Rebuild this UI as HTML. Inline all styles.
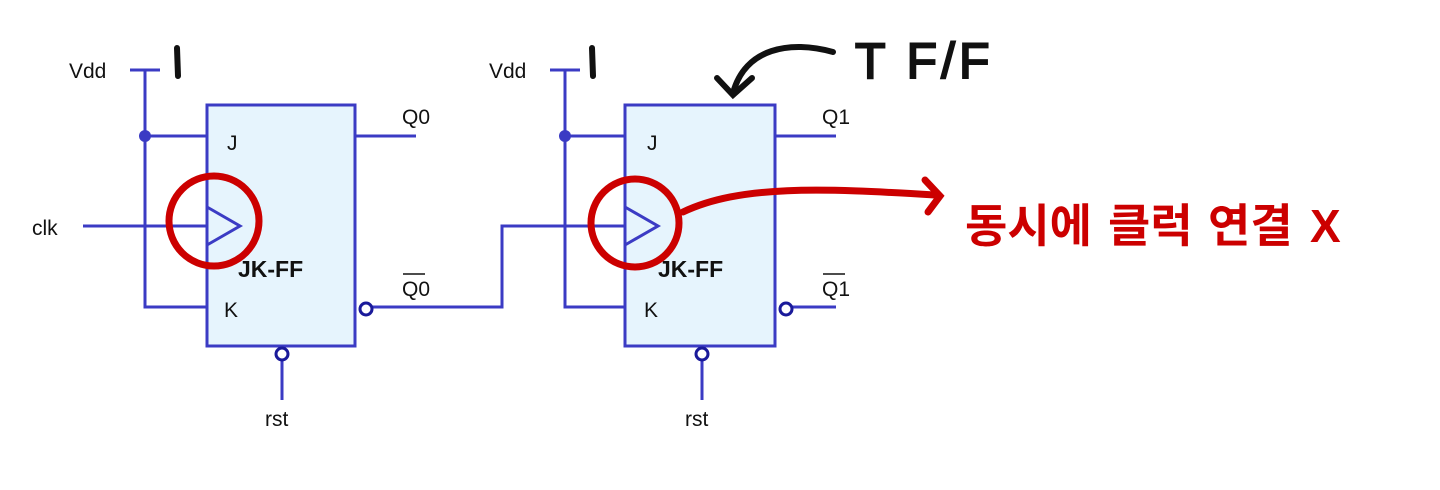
<!DOCTYPE html>
<html><head><meta charset="utf-8"><style>
html,body{margin:0;padding:0;background:#fff;}
svg{display:block;}
</style></head><body>
<svg width="1440" height="490" viewBox="0 0 1440 490" xmlns="http://www.w3.org/2000/svg">
<g font-family="Liberation Sans, sans-serif" fill="#111">
<!-- FF1 -->
<g stroke="#3b3bc4" stroke-width="3" fill="none">
<rect x="207" y="105" width="148" height="241" fill="#e6f4fd"/>
<line x1="130" y1="70" x2="160" y2="70"/>
<polyline points="145,70 145,307 207,307"/>
<line x1="145" y1="136" x2="207" y2="136"/>
<line x1="83" y1="226" x2="207" y2="226"/>
<polyline points="207,207 240,226 207,245"/>
<line x1="355" y1="136" x2="416" y2="136"/>
<polyline points="372,307 502,307 502,226 625,226"/>
<line x1="282" y1="360" x2="282" y2="400"/>
</g>
<circle cx="145" cy="136" r="6" fill="#3b3bc4"/>
<circle cx="366" cy="309" r="6" fill="#fff" stroke="#1a1a9a" stroke-width="3"/>
<circle cx="282" cy="354" r="6" fill="#fff" stroke="#1a1a9a" stroke-width="3"/>
<text x="69" y="78" font-size="21">Vdd</text>
<text x="227" y="150" font-size="21">J</text>
<text x="224" y="317" font-size="21">K</text>
<text x="32" y="235" font-size="21">clk</text>
<text x="238" y="277" font-size="23" font-weight="bold">JK-FF</text>
<text x="402" y="124" font-size="21">Q0</text>
<text x="402" y="296" font-size="21">Q0</text>
<line x1="403" y1="274" x2="425" y2="274" stroke="#111" stroke-width="1.5"/>
<text x="265" y="426" font-size="21">rst</text>
<!-- FF2 -->
<g stroke="#3b3bc4" stroke-width="3" fill="none">
<rect x="625" y="105" width="150" height="241" fill="#e6f4fd"/>
<line x1="550" y1="70" x2="580" y2="70"/>
<polyline points="565,70 565,307 625,307"/>
<line x1="565" y1="136" x2="625" y2="136"/>
<polyline points="625,207 658,226 625,245"/>
<line x1="775" y1="136" x2="836" y2="136"/>
<line x1="792" y1="307" x2="836" y2="307"/>
<line x1="702" y1="360" x2="702" y2="400"/>
</g>
<circle cx="565" cy="136" r="6" fill="#3b3bc4"/>
<circle cx="786" cy="309" r="6" fill="#fff" stroke="#1a1a9a" stroke-width="3"/>
<circle cx="702" cy="354" r="6" fill="#fff" stroke="#1a1a9a" stroke-width="3"/>
<text x="489" y="78" font-size="21">Vdd</text>
<text x="647" y="150" font-size="21">J</text>
<text x="644" y="317" font-size="21">K</text>
<text x="658" y="277" font-size="23" font-weight="bold">JK-FF</text>
<text x="822" y="124" font-size="21">Q1</text>
<text x="822" y="296" font-size="21">Q1</text>
<line x1="823" y1="274" x2="845" y2="274" stroke="#111" stroke-width="1.5"/>
<text x="685" y="426" font-size="21">rst</text>
</g>
<!-- handwriting -->
<g stroke="#111" stroke-width="6" stroke-linecap="round" fill="none">
<line x1="177" y1="48" x2="178" y2="76"/>
<line x1="592" y1="48" x2="593" y2="76"/>
<path d="M833,52 C790,40 745,48 733,93"/>
<polyline points="717,78 733,95 752,78"/>
</g>
<text x="855" y="78" font-family="Liberation Sans, sans-serif" font-size="50" fill="#111" stroke="#111" stroke-width="2" letter-spacing="4">T F/F</text>
<g stroke="#cc0000" stroke-width="7" fill="none" stroke-linecap="round">
<circle cx="214" cy="221" r="45"/>
<circle cx="635" cy="223" r="44"/>
<path d="M683,212 C740,185 820,188 935,195"/>
<polyline points="925,180 940,196 928,212"/>
</g>
<g font-family="Liberation Sans, 'Noto Sans CJK KR', sans-serif" font-size="46" font-weight="bold" fill="#cc0000">
<text x="965" y="242">동시에</text>
<text x="1108" y="242">클럭</text>
<text x="1208" y="242">연결</text>
<text x="1310" y="242">X</text>
</g>
</svg>
</body></html>
